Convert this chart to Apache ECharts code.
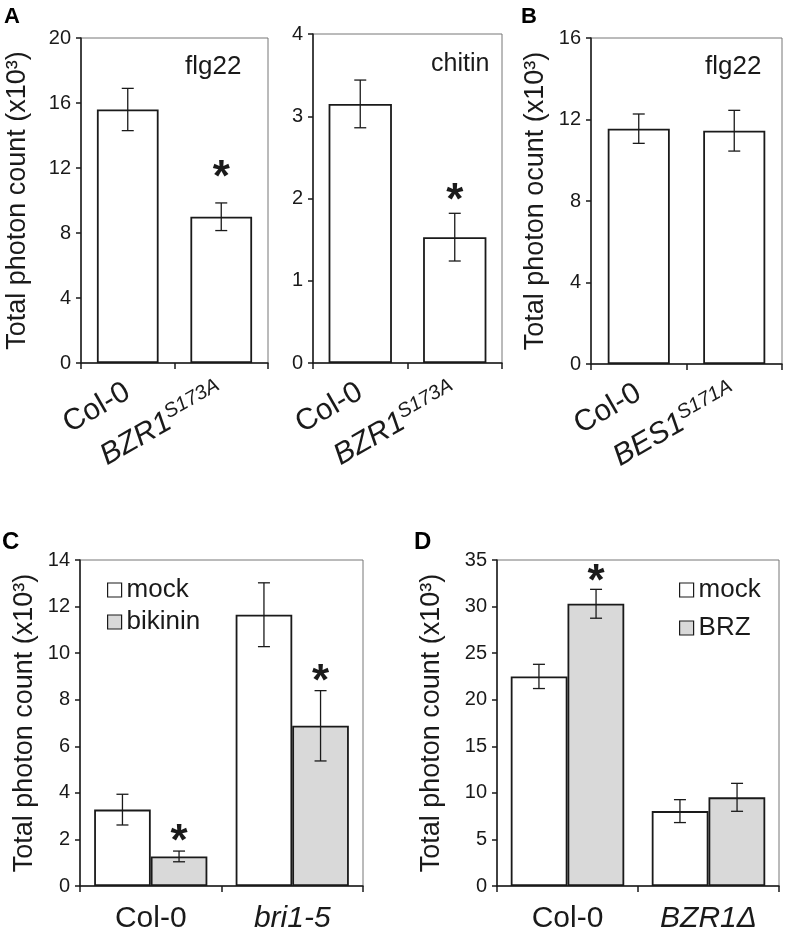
<!DOCTYPE html>
<html>
<head>
<meta charset="utf-8">
<script src="https://cdn.jsdelivr.net/npm/echarts@6/dist/echarts.min.js"></script>
<style>html,body{margin:0;padding:0;background:#fff}#c{width:785px;height:934px}</style>
</head>
<body>
<div id="c"></div>
<script>
// ---- data ----
const catsA = ['Col-0', 'BZR1^S173A'];
const catsB = ['Col-0', 'BES1^S171A'];
const catsC = ['Col-0', 'bri1-5'];
const catsD = ['Col-0', 'BZR1Δ'];

const flgMean = [15.6, 9.0];
const flgErr = [1.3, 0.85];
const flgSig = [0, 1];

const chitinMean = [3.15, 1.53];
const chitinErr = [0.29, 0.29];
const chitinSig = [0, 1];

const besMean = [11.55, 11.45];
const besErr = [0.72, 1.0];
const besSig = [0, 0];

const mockC = [3.28, 11.65];
const mockCErr = [0.66, 1.37];
const mockCSig = [0, 0];
const bikC = [1.27, 6.88];
const bikCErr = [0.23, 1.51];
const bikCSig = [1, 1];

const mockD = [22.5, 8.04];
const mockDErr = [1.3, 1.23];
const mockDSig = [0, 0];
const brzD = [30.3, 9.52];
const brzDErr = [1.55, 1.5];
const brzDSig = [1, 0];

const yTitle = 'Total photon count (x10³)';
const yTitleB = 'Total photon ocunt (x10³)';

// ---- styles ----
const FONT = "'Liberation Sans', Arial, Helvetica, sans-serif";
const INK = '#1a1a1a';
const GREY = '#d9d9d9';

const chart = echarts.init(document.getElementById('c'), null, {renderer: 'canvas'});

function catFormatter(v) {
  if (v === 'Col-0') return '{n|Col-0}';
  const p = v.split('^');
  if (p.length > 1) return '{i|' + p[0] + '}{s|' + p[1] + '}';
  return '{i|' + v + '}';
}
function richFor(size) {
  return {
    n: {fontSize: size, fontFamily: FONT, color: INK, lineHeight: size + 4},
    i: {fontSize: size, fontFamily: FONT, color: INK, fontStyle: 'italic', lineHeight: size + 4},
    s: {fontSize: Math.round(size * 0.68), fontFamily: FONT, color: INK, fontStyle: 'italic', verticalAlign: 'top', lineHeight: Math.round(size * 0.68)}
  };
}

function xAxis(gi, cats, rotate, size, margin) {
  return {
    type: 'category', gridIndex: gi, data: cats,
    axisLine: {lineStyle: {color: INK, width: 1.5}},
    axisTick: {show: true, length: 6, lineStyle: {color: INK, width: 1.5}},
    axisLabel: {interval: 0, rotate: rotate, margin: margin, formatter: catFormatter, rich: richFor(size)}
  };
}
function yAxis(gi, max, interval, name, gap) {
  return {
    type: 'value', gridIndex: gi, min: 0, max: max, interval: interval,
    name: name, nameLocation: 'middle', nameRotate: 90, nameGap: gap,
    nameTextStyle: {fontSize: 27, fontFamily: FONT, color: INK},
    axisLine: {show: true, lineStyle: {color: INK, width: 1.5}},
    axisTick: {show: true, length: 5, lineStyle: {color: INK, width: 1.5}},
    splitLine: {show: false},
    axisLabel: {fontSize: 20, fontFamily: FONT, color: INK, margin: 10}
  };
}
function bar(name, xi, vals, fill, catGap) {
  return {
    type: 'bar', name: name, xAxisIndex: xi, yAxisIndex: xi, data: vals,
    barGap: '0%', barCategoryGap: catGap,
    itemStyle: {color: fill, borderColor: INK, borderWidth: 1.8},
    emphasis: {disabled: true}, animation: false
  };
}
function errSeries(xi, means, errs, sigs, offsetFrac, starGap) {
  return {
    type: 'custom', xAxisIndex: xi, yAxisIndex: xi, clip: false, z: 5, animation: false,
    data: means.map((m, i) => [i, m, errs[i], sigs[i]]),
    encode: {x: 0, y: 1},
    renderItem: function (params, api) {
      const x = api.value(0), m = api.value(1), e = api.value(2), s = api.value(3);
      const band = api.size([1, 0])[0];
      const cx = api.coord([x, m])[0] + offsetFrac * band;
      const top = api.coord([x, m + e])[1];
      const bot = api.coord([x, m - e])[1];
      const cap = 6;
      const st = {stroke: INK, lineWidth: 1.3};
      const children = [
        {type: 'line', shape: {x1: cx, y1: top, x2: cx, y2: bot}, style: st},
        {type: 'line', shape: {x1: cx - cap, y1: top, x2: cx + cap, y2: top}, style: st},
        {type: 'line', shape: {x1: cx - cap, y1: bot, x2: cx + cap, y2: bot}, style: st}
      ];
      if (s) {
        children.push({type: 'text', style: {text: '*', x: cx, y: top - starGap, fill: INK,
          font: 'bold 44px ' + FONT, align: 'center', verticalAlign: 'middle'}});
      }
      return {type: 'group', children: children};
    }
  };
}

const gridStyle = {show: true, borderColor: '#777', borderWidth: 1, backgroundColor: 'transparent'};
const legendText = {fontSize: 26, fontFamily: FONT, color: INK};

const option = {
  backgroundColor: '#fff',
  animation: false,
  grid: [
    Object.assign({left: 81, top: 38, width: 187, height: 325}, gridStyle),
    Object.assign({left: 313, top: 34, width: 189, height: 329}, gridStyle),
    Object.assign({left: 591, top: 38, width: 191, height: 326}, gridStyle),
    Object.assign({left: 80, top: 560, width: 283, height: 328}, gridStyle),
    Object.assign({left: 497, top: 560, width: 282, height: 331}, gridStyle)
  ],
  xAxis: [
    xAxis(0, catsA, 30, 30, 27),
    xAxis(1, catsA, 30, 30, 27),
    xAxis(2, catsB, 30, 30, 27),
    xAxis(3, catsC, 0, 30, 16),
    xAxis(4, catsD, 0, 30, 16)
  ],
  yAxis: [
    yAxis(0, 20, 4, yTitle, 50),
    yAxis(1, 4, 1, '', 40),
    yAxis(2, 16, 4, yTitleB, 42),
    yAxis(3, 14, 2, yTitle, 42),
    yAxis(4, 35, 5, yTitle, 52)
  ],
  legend: [
    {data: [{name: 'mock', icon: 'rect', itemStyle: {color: '#fff', borderColor: INK, borderWidth: 1.2}},
            {name: 'bikinin', icon: 'rect', itemStyle: {color: GREY, borderColor: INK, borderWidth: 1.2}}],
     left: 102, top: 572, orient: 'vertical', itemWidth: 14, itemHeight: 14, itemGap: 6,
     selectedMode: false, textStyle: legendText},
    {data: [{name: 'mock', icon: 'rect', itemStyle: {color: '#fff', borderColor: INK, borderWidth: 1.2}},
            {name: 'BRZ', icon: 'rect', itemStyle: {color: GREY, borderColor: INK, borderWidth: 1.2}}],
     left: 674, top: 572, orient: 'vertical', itemWidth: 14, itemHeight: 14, itemGap: 12,
     selectedMode: false, textStyle: legendText}
  ],
  graphic: [
    {type: 'text', left: 4, top: 6, style: {text: 'A', font: 'bold 22px ' + FONT, fill: '#000'}},
    {type: 'text', left: 521, top: 6, style: {text: 'B', font: 'bold 22px ' + FONT, fill: '#000'}},
    {type: 'text', left: 2, top: 530, style: {text: 'C', font: 'bold 24px ' + FONT, fill: '#000'}},
    {type: 'text', left: 414, top: 530, style: {text: 'D', font: 'bold 24px ' + FONT, fill: '#000'}},
    {type: 'text', left: 185, top: 54, style: {text: 'flg22', font: '26px ' + FONT, fill: INK}},
    {type: 'text', left: 431, top: 52, style: {text: 'chitin', font: '25px ' + FONT, fill: INK}},
    {type: 'text', left: 705, top: 54, style: {text: 'flg22', font: '26px ' + FONT, fill: INK}}
  ],
  series: [
    bar('flg22', 0, flgMean, '#fff', '34%'),
    errSeries(0, flgMean, flgErr, flgSig, 0, 24),
    bar('chitin', 1, chitinMean, '#fff', '33%'),
    errSeries(1, chitinMean, chitinErr, chitinSig, 0, 11),
    bar('flg22B', 2, besMean, '#fff', '35%'),
    errSeries(2, besMean, besErr, besSig, 0, 11),
    bar('mock', 3, mockC, '#fff', '20%'),
    bar('bikinin', 3, bikC, GREY, '20%'),
    errSeries(3, mockC, mockCErr, mockCSig, -0.2, 8),
    errSeries(3, bikC, bikCErr, bikCSig, 0.2, 8),
    bar('mock', 4, mockD, '#fff', '19.5%'),
    bar('BRZ', 4, brzD, GREY, '19.5%'),
    errSeries(4, mockD, mockDErr, mockDSig, -0.2025, 6),
    errSeries(4, brzD, brzDErr, brzDSig, 0.2025, 6)
  ]
};
chart.setOption(option);
</script>
</body>
</html>
